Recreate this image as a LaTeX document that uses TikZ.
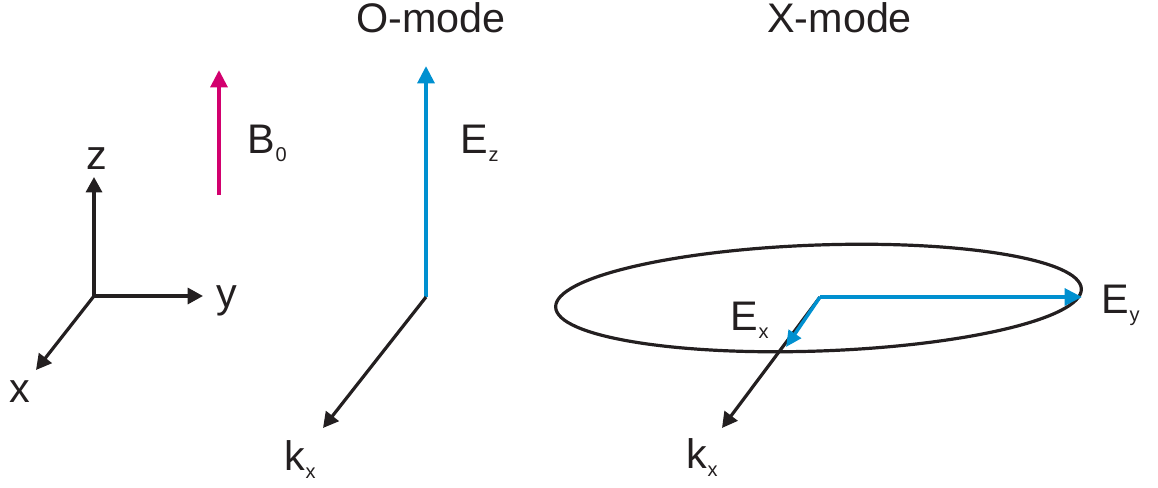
\documentclass[tikz,border=0pt]{standalone}
\usepackage{fontspec}
\setmainfont{Liberation Sans}
\usetikzlibrary{arrows.meta}
\definecolor{magb}{HTML}{D2006E}
\definecolor{bluee}{HTML}{0090D0}
\definecolor{ink}{HTML}{231F20}
\newcommand{\sbx}[1]{\kern0.5pt\raisebox{-6pt}{\fontsize{15}{17}\selectfont #1}}
\tikzset{
  vec/.style={line width=2.4pt, draw=ink, -{Triangle[length=11.5pt,width=12pt]}},
  bvec/.style={line width=3pt, draw=bluee, -{Triangle[length=13pt,width=12.5pt]}},
  lbl/.style={font=\fontsize{31}{35}\selectfont, text=ink, inner sep=0pt, anchor=base west}
}
\begin{document}
\begin{tikzpicture}[x=0.75pt,y=-0.75pt]
\useasboundingbox (0,0) rectangle (1158,487);
% axes
\coordinate (o) at (94,296);
\coordinate (zt) at (94,177);
\coordinate (yt) at (203,296);
\coordinate (xt) at (36,370);
\draw[vec] (o) -- (zt);
\draw[vec] (o) -- (yt);
\draw[vec] (o) -- (xt);
\node[lbl] (zl) at (86,169) {z};
\node[lbl] (yl) at (216,307) {y};
\node[lbl] (xl) at (9,402) {x};
% B0
\coordinate (b0) at (219,195);
\coordinate (b1) at (219,70);
\draw[line width=3pt, draw=magb, -{Triangle[length=13pt,width=12.5pt]}] (b0) -- (b1);
\node[lbl] (bl) at (247,153) {B\sbx{0}};
% O-mode
\node[lbl] (ot) at (356,32) {O-mode};
\coordinate (oo) at (426,297);
\coordinate (ez) at (426,66);
\coordinate (ok) at (323,428);
\draw[bvec] (oo) -- (ez);
\draw[vec] (oo) -- (ok);
\node[lbl] (ezl) at (460,153) {E\sbx{z}};
\node[lbl] (okl) at (284,470) {k\sbx{x}};
% X-mode
\node[lbl] (xt2) at (767,32) {X-mode};
\coordinate (c) at (818.5,298);
\draw[line width=2.4pt, draw=ink, rotate around={2:(c)}] (c) ellipse [x radius=263, y radius=53];
\coordinate (xo) at (820,297);
\coordinate (xk) at (722,428);
\coordinate (xey) at (1082,297);
\coordinate (xex) at (786,347);
\draw[vec] (xo) -- (xk);
\draw[bvec] (xo) -- (xey);
\draw[line width=2.6pt, draw=bluee, -{Triangle[length=12pt,width=11pt]}] (xo) -- (xex);
\node[lbl] (exl) at (730,330) {E\sbx{x}};
\node[lbl] (eyl) at (1101,313) {E\sbx{y}};
\node[lbl] (xkl) at (686,468) {k\sbx{x}};
\end{tikzpicture}
\end{document}
